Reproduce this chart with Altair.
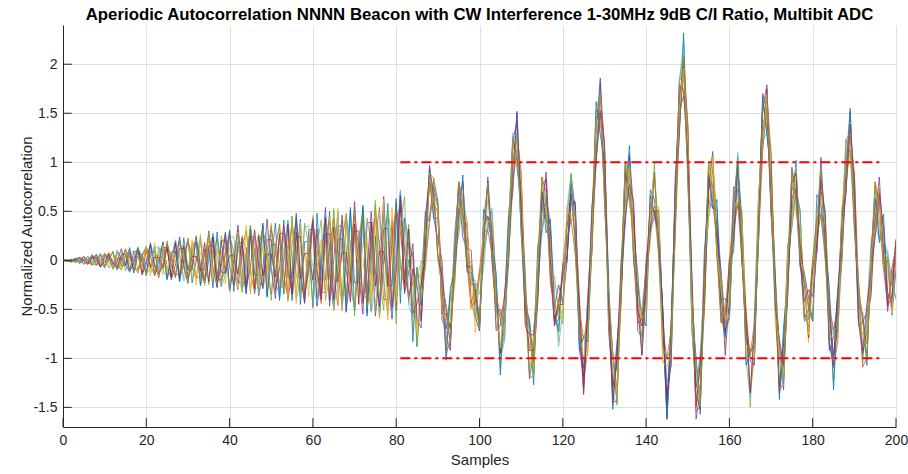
import altair as alt
import pandas as pd

samples = list(range(201))

L1 = [0.00, -0.01, 0.00, 0.02, -0.03, 0.00, 0.04, -0.05, 0.00, 0.07,
      -0.07, 0.00, 0.09, -0.10, 0.00, 0.11, -0.12, 0.00, 0.13, -0.14,
      0.00, 0.16, -0.16, 0.00, 0.18, -0.19, 0.00, 0.20, -0.21, 0.00,
      0.22, -0.23, 0.00, 0.24, -0.25, 0.00, 0.27, -0.27, 0.00, 0.29,
      -0.30, 0.00, 0.31, -0.32, 0.00, 0.33, -0.34, 0.00, 0.36, -0.36,
      0.00, 0.38, -0.38, 0.00, 0.40, -0.41, 0.00, 0.42, -0.43, 0.00,
      0.44, -0.45, 0.00, 0.47, -0.47, 0.00, 0.49, -0.50, 0.00, 0.51,
      -0.52, 0.00, 0.53, -0.54, 0.00, 0.56, -0.56, 0.00, 0.58, -0.58,
      0.00, 0.70, -0.31, 0.00, 0.08, -0.88, -0.30, 0.50, 0.39, 0.75,
      0.56, -0.61, -0.70, -0.34, -0.26, 0.50, 0.81, -0.06, -0.25, -0.24,
      -0.66, 0.20, 0.81, 0.04, -0.45, -0.59, -0.81, 0.30, 1.26, 0.94,
      0.60, -0.14, -1.21, -0.95, 0.16, 0.29, 0.60, 0.36, -0.66, -0.60,
      -0.09, 0.04, 0.65, 0.56, -0.86, -1.10, -0.44, 0.09, 1.30, 1.86,
      0.64, -0.40, -0.94, -1.46, -0.20, 0.96, 0.59, 0.30, -0.14, -0.96,
      -0.35, 0.66, 0.49, 0.30, -0.54, -1.56, -0.80, 0.76, 1.34, 2.00,
      1.36, -0.71, -1.30, -0.99, -0.51, 0.70, 1.11, 0.04, -0.40, -0.39,
      -0.56, 0.40, 1.06, 0.04, -0.75, -0.99, -1.01, 0.45, 1.61, 1.34,
      0.80, -0.14, -1.36, -1.00, 0.16, 0.34, 0.70, 0.51, -0.61, -0.60,
      -0.04, 0.09, 0.70, 0.51, -0.86, -1.00, -0.34, 0.04, 1.00, 1.46,
      0.34, -0.35, -0.59, -1.01, -0.05, 0.76, 0.24, 0.15, 0.06, -0.56,
      -0.10]

L2 = [0.00, 0.00, -0.01, 0.01, 0.03, -0.01, -0.04, 0.02, 0.06, -0.03,
      -0.07, 0.03, 0.08, -0.04, -0.10, 0.04, 0.11, -0.05, -0.13, 0.06,
      0.14, -0.06, -0.15, 0.07, 0.17, -0.07, -0.18, 0.08, 0.20, -0.08,
      -0.21, 0.09, 0.23, -0.10, -0.24, 0.10, 0.25, -0.11, -0.27, 0.11,
      0.28, -0.12, -0.30, 0.12, 0.31, -0.13, -0.32, 0.14, 0.34, -0.14,
      -0.35, 0.15, 0.37, -0.15, -0.38, 0.16, 0.39, -0.17, -0.41, 0.17,
      0.42, -0.18, -0.44, 0.18, 0.45, -0.19, -0.46, 0.19, 0.48, -0.20,
      -0.49, 0.21, 0.51, -0.21, -0.52, 0.22, 0.54, -0.22, -0.55, 0.23,
      0.56, -0.07, -0.28, 0.18, 0.05, -0.65, -0.61, 0.31, 0.88, 0.65,
      0.07, -0.25, -0.47, -0.70, -0.23, 0.60, 0.78, 0.10, -0.48, -0.40,
      -0.17, 0.10, 0.32, 0.40, -0.22, -0.95, -0.78, 0.40, 1.23, 1.10,
      0.37, -0.30, -0.72, -1.05, -0.33, 0.65, 0.83, 0.00, -0.63, -0.50,
      -0.12, 0.20, 0.42, 0.40, -0.37, -1.20, -0.93, 0.45, 1.53, 1.50,
      0.67, -0.30, -0.97, -1.30, -0.43, 0.80, 1.08, 0.20, -0.63, -0.60,
      -0.12, 0.30, 0.52, 0.40, -0.57, -1.40, -1.03, 0.60, 1.83, 1.90,
      0.87, -0.35, -1.07, -1.35, -0.48, 0.80, 1.08, 0.20, -0.63, -0.55,
      -0.07, 0.30, 0.57, 0.40, -0.52, -1.35, -0.98, 0.55, 1.58, 1.50,
      0.57, -0.30, -0.87, -1.10, -0.33, 0.70, 0.93, 0.15, -0.58, -0.50,
      -0.07, 0.25, 0.47, 0.35, -0.37, -1.10, -0.83, 0.40, 1.23, 1.10,
      0.37, -0.25, -0.62, -0.85, -0.28, 0.60, 0.73, 0.05, -0.43, -0.20,
      0.13]

L3 = [0.00, -0.01, 0.00, 0.01, -0.02, 0.04, -0.04, 0.02, 0.02, -0.06,
      0.08, -0.07, 0.03, 0.03, -0.09, 0.11, -0.10, 0.04, 0.04, -0.12,
      0.15, -0.13, 0.05, 0.05, -0.15, 0.19, -0.16, 0.06, 0.07, -0.18,
      0.23, -0.19, 0.08, 0.08, -0.21, 0.27, -0.22, 0.09, 0.09, -0.24,
      0.31, -0.25, 0.10, 0.10, -0.27, 0.34, -0.29, 0.11, 0.11, -0.30,
      0.38, -0.32, 0.12, 0.13, -0.33, 0.42, -0.35, 0.14, 0.14, -0.37,
      0.46, -0.38, 0.15, 0.15, -0.40, 0.50, -0.41, 0.16, 0.16, -0.43,
      0.54, -0.44, 0.17, 0.17, -0.46, 0.57, -0.47, 0.18, 0.18, -0.49,
      0.61, -0.31, 0.36, 0.15, -0.72, -0.08, -0.61, 0.31, 0.74, 0.51,
      0.60, -0.59, -0.61, -0.51, -0.24, 0.80, 0.31, 0.29, -0.16, -0.74,
      -0.10, -0.04, 0.64, 0.39, -0.69, -0.55, -0.79, 0.39, 1.09, 0.96,
      0.90, -0.64, -0.86, -0.86, -0.34, 0.85, 0.36, 0.19, -0.31, -0.84,
      -0.05, 0.06, 0.74, 0.39, -0.84, -0.80, -0.94, 0.44, 1.39, 1.36,
      1.20, -0.64, -1.11, -1.11, -0.44, 1.00, 0.61, 0.39, -0.31, -0.94,
      -0.05, 0.16, 0.84, 0.39, -1.04, -1.00, -1.04, 0.59, 1.69, 1.76,
      1.40, -0.69, -1.21, -1.16, -0.49, 1.00, 0.61, 0.39, -0.31, -0.89,
      0.00, 0.16, 0.89, 0.39, -0.99, -0.95, -0.99, 0.54, 1.44, 1.36,
      1.10, -0.64, -1.01, -0.91, -0.34, 0.90, 0.46, 0.34, -0.26, -0.84,
      0.00, 0.11, 0.79, 0.34, -0.84, -0.70, -0.84, 0.39, 1.09, 0.96,
      0.90, -0.59, -0.76, -0.66, -0.29, 0.80, 0.26, 0.24, -0.11, -0.54,
      0.20]

L4 = [0.00, 0.00, -0.02, 0.02, 0.02, -0.04, -0.01, 0.06, -0.01, -0.07,
      0.05, 0.06, -0.09, -0.02, 0.12, -0.03, -0.12, 0.09, 0.09, -0.15,
      -0.04, 0.18, -0.04, -0.18, 0.13, 0.13, -0.20, -0.05, 0.24, -0.05,
      -0.23, 0.16, 0.17, -0.25, -0.06, 0.30, -0.07, -0.28, 0.20, 0.21,
      -0.31, -0.08, 0.36, -0.08, -0.34, 0.24, 0.24, -0.36, -0.09, 0.42,
      -0.09, -0.39, 0.27, 0.28, -0.41, -0.10, 0.48, -0.11, -0.44, 0.31,
      0.32, -0.47, -0.12, 0.54, -0.12, -0.50, 0.35, 0.35, -0.52, -0.13,
      0.60, -0.13, -0.55, 0.38, 0.39, -0.57, -0.14, 0.65, -0.15, -0.60,
      0.42, 0.55, -0.34, -0.12, 0.17, -0.60, -0.69, 0.44, 0.87, 0.43,
      0.22, 0.00, -0.78, -0.92, 0.22, 0.72, 0.23, 0.12, 0.10, -0.58,
      -0.72, 0.42, 0.77, -0.02, -0.53, -0.50, -0.63, -0.02, 1.22, 1.42,
      0.28, -0.48, -0.60, -1.03, -0.42, 0.77, 0.82, -0.22, -0.48, -0.25,
      -0.43, -0.02, 0.87, 0.52, -0.92, -1.18, -0.35, 0.27, 0.98, 1.82,
      1.12, -0.72, -1.28, -0.85, -0.28, 0.38, 1.07, 0.52, -0.72, -0.78,
      0.00, 0.32, 0.43, 0.52, -0.58, -1.62, -0.88, 0.85, 1.52, 1.68,
      1.32, -0.23, -1.62, -1.33, 0.10, 0.62, 0.53, 0.52, -0.18, -0.97,
      -0.38, 0.75, 0.72, -0.02, -0.53, -1.03, -1.07, 0.37, 1.70, 1.52,
      0.48, -0.18, -0.88, -1.32, -0.18, 0.95, 0.62, -0.07, -0.13, -0.38,
      -0.62, 0.27, 1.05, 0.17, -0.92, -0.78, -0.38, -0.02, 0.92, 1.55,
      0.52, -0.67, -0.63, -0.53, -0.37, 0.42, 0.85, 0.07, -0.52, -0.08,
      0.12]

L5 = [0.00, 0.00, -0.01, 0.02, 0.01, -0.04, 0.01, 0.04, -0.05, -0.02,
      0.07, -0.02, -0.07, 0.08, 0.03, -0.11, 0.04, 0.10, -0.10, -0.04,
      0.14, -0.05, -0.13, 0.13, 0.05, -0.18, 0.06, 0.16, -0.16, -0.06,
      0.22, -0.07, -0.19, 0.19, 0.08, -0.25, 0.08, 0.22, -0.22, -0.09,
      0.29, -0.09, -0.24, 0.25, 0.10, -0.32, 0.10, 0.27, -0.28, -0.11,
      0.36, -0.11, -0.30, 0.31, 0.12, -0.40, 0.12, 0.33, -0.34, -0.13,
      0.43, -0.14, -0.36, 0.37, 0.14, -0.47, 0.15, 0.39, -0.40, -0.15,
      0.50, -0.16, -0.42, 0.43, 0.17, -0.54, 0.17, 0.45, -0.45, -0.18,
      0.58, -0.02, -0.21, 0.37, -0.22, -0.87, -0.20, 0.43, 0.45, 0.67,
      0.55, -0.43, -0.90, -0.40, 0.08, 0.25, 0.63, 0.40, -0.45, -0.58,
      -0.15, 0.12, 0.35, 0.50, -0.37, -1.10, -0.47, 0.50, 0.80, 1.12,
      0.85, -0.48, -1.15, -0.75, -0.02, 0.30, 0.68, 0.30, -0.60, -0.68,
      -0.10, 0.22, 0.45, 0.50, -0.52, -1.35, -0.62, 0.55, 1.10, 1.52,
      1.15, -0.48, -1.40, -1.00, -0.12, 0.45, 0.93, 0.50, -0.60, -0.78,
      -0.10, 0.32, 0.55, 0.50, -0.72, -1.55, -0.72, 0.70, 1.40, 1.92,
      1.35, -0.53, -1.50, -1.05, -0.17, 0.45, 0.93, 0.50, -0.60, -0.73,
      -0.05, 0.32, 0.60, 0.50, -0.67, -1.50, -0.67, 0.65, 1.15, 1.52,
      1.05, -0.48, -1.30, -0.80, -0.02, 0.35, 0.78, 0.45, -0.55, -0.68,
      -0.05, 0.27, 0.50, 0.45, -0.52, -1.25, -0.52, 0.50, 0.80, 1.12,
      0.85, -0.43, -1.05, -0.55, 0.03, 0.25, 0.58, 0.35, -0.40, -0.38,
      0.15]

L6 = [0.00, 0.00, -0.01, -0.01, 0.02, 0.03, -0.02, -0.05, 0.01, 0.07,
      0.01, -0.08, -0.05, 0.08, 0.08, -0.06, -0.12, 0.02, 0.14, 0.02,
      -0.14, -0.08, 0.13, 0.14, -0.09, -0.18, 0.03, 0.21, 0.04, -0.21,
      -0.11, 0.18, 0.19, -0.13, -0.24, 0.05, 0.28, 0.05, -0.27, -0.15,
      0.24, 0.24, -0.16, -0.31, 0.06, 0.34, 0.06, -0.34, -0.18, 0.29,
      0.29, -0.20, -0.37, 0.07, 0.41, 0.07, -0.40, -0.22, 0.34, 0.35,
      -0.23, -0.44, 0.08, 0.48, 0.08, -0.47, -0.25, 0.39, 0.40, -0.26,
      -0.50, 0.09, 0.55, 0.09, -0.53, -0.29, 0.45, 0.45, -0.30, -0.57,
      0.10, 0.72, 0.29, -0.46, -0.58, -0.18, -0.01, 0.03, 0.37, 0.80,
      0.60, -0.30, -0.98, -0.75, 0.23, 0.73, 0.40, -0.08, -0.20, -0.20,
      -0.35, -0.08, 0.40, 0.53, -0.22, -1.00, -0.83, 0.35, 1.30, 1.25,
      0.32, -0.55, -0.72, -0.72, -0.25, 0.27, 0.65, 0.40, -0.35, -0.88,
      -0.50, 0.53, 0.88, 0.15, -0.88, -1.05, -0.40, 0.40, 1.02, 1.45,
      1.13, -0.17, -1.35, -1.48, -0.15, 1.00, 0.90, 0.02, -0.55, -0.47,
      -0.12, 0.25, 0.47, 0.35, -0.50, -1.25, -1.08, 0.35, 1.83, 2.23,
      0.95, -0.73, -1.25, -0.95, -0.20, 0.42, 0.70, 0.53, -0.17, -0.80,
      -0.58, 0.45, 1.10, 0.35, -1.03, -1.40, -0.52, 0.68, 1.20, 1.32,
      0.85, -0.10, -1.05, -1.28, -0.25, 0.83, 0.93, 0.10, -0.63, -0.55,
      0.00, 0.40, 0.42, 0.10, -0.37, -0.77, -0.75, 0.02, 1.05, 1.50,
      0.65, -0.63, -1.00, -0.52, 0.18, 0.35, 0.22, 0.20, 0.10, -0.25,
      -0.38]

L7 = [0.00, -0.01, 0.01, -0.01, 0.00, 0.01, -0.02, 0.04, -0.05, 0.06,
      -0.06, 0.06, -0.04, 0.02, 0.02, -0.05, 0.08, -0.11, 0.12, -0.12,
      0.10, -0.07, 0.03, 0.03, -0.08, 0.13, -0.17, 0.18, -0.18, 0.15,
      -0.10, 0.04, 0.04, -0.11, 0.18, -0.22, 0.24, -0.24, 0.20, -0.13,
      0.05, 0.05, -0.14, 0.23, -0.28, 0.31, -0.29, 0.25, -0.16, 0.06,
      0.06, -0.17, 0.27, -0.34, 0.37, -0.35, 0.29, -0.19, 0.07, 0.07,
      -0.20, 0.32, -0.40, 0.43, -0.41, 0.34, -0.22, 0.08, 0.08, -0.23,
      0.37, -0.45, 0.49, -0.47, 0.39, -0.26, 0.09, 0.09, -0.27, 0.41,
      -0.51, 0.65, -0.23, 0.32, -0.54, -0.44, -0.25, 0.08, 0.80, 0.56,
      0.50, -0.54, -0.55, -0.70, 0.03, 0.53, 0.45, 0.35, -0.44, -0.30,
      -0.59, 0.35, 0.45, 0.33, -0.42, -0.95, -0.40, 0.11, 1.20, 1.01,
      0.75, -0.50, -0.92, -0.92, -0.20, 0.70, 0.41, 0.30, -0.59, -0.45,
      -0.45, 0.33, 0.68, 0.20, -0.45, -1.29, -0.50, 0.16, 1.45, 1.50,
      0.93, -0.37, -1.30, -1.05, -0.39, 0.90, 0.66, 0.45, -0.50, -0.67,
      -0.32, 0.30, 0.90, 0.11, -0.60, -1.49, -0.65, 0.40, 1.63, 2.03,
      1.00, -0.30, -1.49, -1.05, -0.44, 0.85, 0.75, 0.33, -0.37, -0.75,
      -0.15, 0.21, 1.00, 0.11, -0.60, -1.35, -0.72, 0.48, 1.25, 1.75,
      0.61, -0.20, -1.29, -0.85, -0.20, 0.63, 0.73, 0.15, -0.20, -0.79,
      -0.10, 0.16, 0.85, 0.15, -0.57, -0.97, -0.70, 0.45, 0.81, 1.40,
      0.41, -0.20, -0.95, -0.72, -0.02, 0.40, 0.65, -0.04, 0.00, -0.49,
      0.05]

L8 = [0.00, -0.01, 0.01, 0.01, -0.03, 0.04, -0.02, -0.02, 0.06, -0.07,
      0.03, 0.04, -0.09, 0.10, -0.05, -0.05, 0.13, -0.13, 0.06, 0.06,
      -0.16, 0.16, -0.07, -0.07, 0.19, -0.20, 0.08, 0.09, -0.22, 0.23,
      -0.10, -0.10, 0.25, -0.26, 0.11, 0.11, -0.28, 0.29, -0.12, -0.13,
      0.31, -0.32, 0.14, 0.14, -0.34, 0.35, -0.15, -0.15, 0.38, -0.38,
      0.16, 0.16, -0.41, 0.41, -0.17, -0.18, 0.44, -0.45, 0.19, 0.19,
      -0.47, 0.48, -0.20, -0.20, 0.50, -0.51, 0.21, 0.22, -0.53, 0.54,
      -0.23, -0.23, 0.56, -0.57, 0.24, 0.24, -0.59, 0.60, -0.25, -0.26,
      0.63, -0.44, 0.43, 0.21, -0.83, -0.07, -0.46, 0.05, 0.97, 0.43,
      0.43, -0.22, -1.02, -0.28, -0.13, 0.37, 0.87, -0.12, -0.12, -0.37,
      -0.72, 0.52, 0.42, 0.17, -0.13, -1.17, -0.42, 0.43, 0.68, 1.52,
      0.47, -0.53, -0.63, -1.27, 0.03, 0.68, 0.28, 0.42, -0.53, -0.73,
      -0.03, -0.02, 0.78, 0.43, -0.92, -0.78, -0.83, 0.22, 1.62, 1.28,
      1.03, -0.27, -1.52, -0.88, -0.33, 0.57, 1.17, -0.02, -0.27, -0.57,
      -0.67, 0.72, 0.62, 0.17, -0.48, -1.62, -0.67, 0.63, 1.28, 2.32,
      0.97, -0.58, -0.98, -1.57, -0.12, 0.83, 0.53, 0.62, -0.53, -0.78,
      0.02, 0.08, 0.93, 0.43, -1.07, -0.93, -0.88, 0.32, 1.67, 1.28,
      0.93, -0.27, -1.42, -0.68, -0.23, 0.47, 1.02, -0.07, -0.22, -0.47,
      -0.62, 0.67, 0.57, 0.12, -0.28, -1.32, -0.47, 0.43, 0.68, 1.52,
      0.47, -0.48, -0.53, -1.07, 0.08, 0.63, 0.18, 0.47, -0.33, -0.43,
      0.22]

L9 = [0.00, 0.00, -0.01, -0.02, 0.01, 0.03, 0.01, -0.04, -0.04, 0.02,
      0.06, 0.02, -0.06, -0.07, 0.03, 0.10, 0.03, -0.09, -0.09, 0.04,
      0.13, 0.04, -0.11, -0.12, 0.05, 0.16, 0.05, -0.14, -0.15, 0.06,
      0.19, 0.06, -0.17, -0.17, 0.07, 0.22, 0.07, -0.19, -0.20, 0.08,
      0.26, 0.08, -0.22, -0.22, 0.09, 0.29, 0.09, -0.24, -0.25, 0.10,
      0.32, 0.10, -0.27, -0.27, 0.11, 0.35, 0.11, -0.30, -0.30, 0.12,
      0.38, 0.12, -0.32, -0.33, 0.13, 0.42, 0.13, -0.35, -0.35, 0.14,
      0.45, 0.14, -0.37, -0.38, 0.15, 0.48, 0.15, -0.40, -0.40, 0.16,
      0.51, 0.30, -0.17, -0.35, -0.23, -0.12, -0.19, -0.07, 0.41, 0.84,
      0.60, -0.26, -0.94, -0.84, 0.09, 0.80, 0.64, -0.04, -0.49, -0.41,
      -0.10, 0.29, 0.31, 0.06, -0.36, -0.55, -0.46, 0.06, 0.76, 1.29,
      0.90, -0.31, -1.19, -1.19, -0.01, 0.85, 0.69, -0.14, -0.64, -0.51,
      -0.05, 0.39, 0.41, 0.06, -0.51, -0.80, -0.61, 0.11, 1.06, 1.69,
      1.20, -0.31, -1.44, -1.44, -0.11, 1.00, 0.94, 0.06, -0.64, -0.61,
      -0.05, 0.49, 0.51, 0.06, -0.71, -1.00, -0.71, 0.26, 1.36, 2.09,
      1.40, -0.36, -1.54, -1.49, -0.16, 1.00, 0.94, 0.06, -0.64, -0.56,
      0.00, 0.49, 0.56, 0.06, -0.66, -0.95, -0.66, 0.21, 1.11, 1.69,
      1.10, -0.31, -1.34, -1.24, -0.01, 0.90, 0.79, 0.01, -0.59, -0.51,
      0.00, 0.44, 0.46, 0.01, -0.51, -0.70, -0.51, 0.06, 0.76, 1.29,
      0.90, -0.26, -1.09, -0.99, 0.04, 0.80, 0.59, -0.09, -0.44, -0.21,
      0.20]

L10 = [0.00, -0.01, 0.01, -0.02, 0.01, -0.01, -0.01, 0.02, -0.04, 0.06,
       -0.08, 0.09, -0.09, 0.09, -0.07, 0.05, -0.02, -0.02, 0.06, -0.10,
       0.14, -0.16, 0.18, -0.18, 0.16, -0.13, 0.09, -0.03, -0.03, 0.10,
       -0.16, 0.21, -0.25, 0.27, -0.26, 0.24, -0.19, 0.12, -0.04, -0.04,
       0.13, -0.22, 0.29, -0.33, 0.36, -0.35, 0.31, -0.25, 0.16, -0.06,
       -0.06, 0.17, -0.27, 0.36, -0.42, 0.45, -0.44, 0.39, -0.31, 0.20,
       -0.07, -0.07, 0.21, -0.33, 0.44, -0.51, 0.53, -0.52, 0.46, -0.36,
       0.23, -0.08, -0.08, 0.24, -0.39, 0.51, -0.59, 0.62, -0.61, 0.54,
       -0.42, 0.40, 0.12, -0.07, -0.17, -0.76, -0.01, -0.09, 0.90, 0.51,
       0.51, -0.51, -0.60, -0.64, -0.04, 0.60, 0.39, 0.41, -0.49, -0.25,
       -0.64, 0.41, 0.39, 0.40, -0.49, -0.89, -0.45, 0.14, 1.21, 0.96,
       0.85, -0.64, -0.74, -1.11, 0.00, 0.51, 0.56, 0.20, -0.56, -0.39,
       -0.59, 0.55, 0.41, 0.51, -0.76, -1.00, -0.74, 0.31, 1.40, 1.44,
       1.11, -0.64, -0.95, -1.44, 0.01, 0.54, 0.95, 0.26, -0.44, -0.60,
       -0.51, 0.61, 0.51, 0.55, -1.04, -1.09, -0.96, 0.60, 1.56, 1.96,
       1.20, -0.61, -1.09, -1.49, 0.00, 0.46, 1.06, 0.14, -0.30, -0.69,
       -0.34, 0.50, 0.64, 0.51, -0.99, -1.00, -0.99, 0.66, 1.19, 1.70,
       0.76, -0.44, -1.00, -1.16, 0.11, 0.36, 0.95, 0.01, -0.14, -0.76,
       -0.20, 0.31, 0.66, 0.35, -0.76, -0.79, -0.84, 0.55, 0.76, 1.41,
       0.44, -0.25, -0.89, -0.79, 0.05, 0.34, 0.71, -0.09, 0.05, -0.54,
       0.11]

L11 = [0.00, 0.00, -0.01, 0.00, 0.03, -0.01, -0.04, 0.03, 0.03, -0.06,
       -0.02, 0.07, -0.02, -0.08, 0.06, 0.06, -0.10, -0.03, 0.12, -0.03,
       -0.12, 0.09, 0.09, -0.14, -0.04, 0.17, -0.04, -0.17, 0.12, 0.12,
       -0.18, -0.05, 0.22, -0.05, -0.21, 0.15, 0.15, -0.23, -0.06, 0.27,
       -0.06, -0.25, 0.18, 0.18, -0.27, -0.07, 0.31, -0.07, -0.29, 0.21,
       0.21, -0.31, -0.08, 0.36, -0.08, -0.34, 0.24, 0.24, -0.35, -0.09,
       0.41, -0.09, -0.38, 0.27, 0.27, -0.40, -0.10, 0.46, -0.10, -0.42,
       0.30, 0.30, -0.44, -0.11, 0.50, -0.11, -0.47, 0.32, 0.33, -0.48,
       -0.12, 0.66, 0.09, -0.41, -0.09, -0.26, -0.62, 0.13, 0.95, 0.68,
       0.03, -0.16, -0.51, -0.87, -0.07, 0.80, 0.48, -0.07, -0.06, -0.31,
       -0.67, 0.13, 0.85, 0.23, -0.72, -0.66, -0.36, 0.03, 0.93, 1.50,
       0.53, -0.67, -0.76, -0.76, -0.37, 0.48, 0.90, 0.03, -0.67, -0.41,
       -0.16, 0.03, 0.58, 0.60, -0.67, -1.37, -0.51, 0.54, 1.03, 1.53,
       1.20, -0.47, -1.47, -1.01, -0.01, 0.43, 0.78, 0.60, -0.47, -0.97,
       -0.16, 0.59, 0.48, 0.23, -0.50, -1.37, -1.07, 0.69, 1.79, 1.73,
       1.03, -0.15, -1.37, -1.52, -0.06, 0.89, 0.58, 0.23, -0.10, -0.72,
       -0.57, 0.59, 0.99, 0.03, -0.82, -0.95, -0.82, 0.18, 1.54, 1.79,
       0.53, -0.47, -0.80, -1.07, -0.37, 0.79, 0.89, -0.02, -0.42, -0.30,
       -0.37, 0.08, 0.89, 0.44, -0.87, -1.07, -0.30, 0.23, 0.73, 1.39,
       0.79, -0.62, -0.92, -0.45, -0.12, 0.23, 0.69, 0.34, -0.47, -0.37,
       0.20]

L12 = [0.00, 0.00, 0.01, -0.02, -0.01, 0.04, -0.02, -0.05, 0.05, 0.02,
       -0.08, 0.03, 0.08, -0.09, -0.04, 0.12, -0.04, -0.11, 0.12, 0.05,
       -0.16, 0.05, 0.14, -0.15, -0.06, 0.20, -0.07, -0.18, 0.18, 0.07,
       -0.24, 0.08, 0.21, -0.22, -0.09, 0.28, -0.09, -0.24, 0.25, 0.10,
       -0.32, 0.10, 0.28, -0.28, -0.11, 0.36, -0.12, -0.31, 0.31, 0.12,
       -0.41, 0.13, 0.34, -0.35, -0.14, 0.45, -0.14, -0.37, 0.38, 0.15,
       -0.49, 0.15, 0.41, -0.41, -0.16, 0.53, -0.17, -0.44, 0.45, 0.17,
       -0.57, 0.18, 0.47, -0.48, -0.19, 0.61, -0.19, -0.51, 0.51, 0.20,
       -0.65, 0.34, 0.65, -0.42, -0.50, -0.07, -0.42, -0.08, 0.89, 0.84,
       0.00, -0.26, -0.46, -0.84, -0.09, 0.80, 0.46, -0.04, -0.01, -0.41,
       -0.70, 0.29, 0.79, 0.06, -0.54, -0.55, -0.64, 0.06, 1.24, 1.29,
       0.30, -0.31, -0.71, -1.19, -0.19, 0.85, 0.51, -0.14, -0.16, -0.51,
       -0.65, 0.39, 0.89, 0.06, -0.69, -0.80, -0.79, 0.11, 1.54, 1.69,
       0.60, -0.31, -0.96, -1.44, -0.29, 1.00, 0.76, 0.06, -0.16, -0.61,
       -0.65, 0.49, 0.99, 0.06, -0.89, -1.00, -0.89, 0.26, 1.84, 2.09,
       0.80, -0.36, -1.06, -1.49, -0.34, 1.00, 0.76, 0.06, -0.16, -0.56,
       -0.60, 0.49, 1.04, 0.06, -0.84, -0.95, -0.84, 0.21, 1.59, 1.69,
       0.50, -0.31, -0.86, -1.24, -0.19, 0.90, 0.61, 0.01, -0.11, -0.51,
       -0.60, 0.44, 0.94, 0.01, -0.69, -0.70, -0.69, 0.06, 1.24, 1.29,
       0.30, -0.26, -0.61, -0.99, -0.14, 0.80, 0.41, -0.09, 0.04, -0.21,
       -0.40]

run_names = ["r01", "r02", "r03", "r04", "r05", "r06",
             "r07", "r08", "r09", "r10", "r11", "r12"]
run_values = [L1, L2, L3, L4, L5, L6, L7, L8, L9, L10, L11, L12]
run_colors = ["#0072BD", "#D95319", "#EDB120", "#7E2F8E", "#77AC30", "#4DBEEE",
              "#A2142F", "#0072BD", "#D95319", "#EDB120", "#7E2F8E", "#77AC30"]

threshold_levels = [1, -1]
threshold_span = [81, 196]

x_ticks = [0, 20, 40, 60, 80, 100, 120, 140, 160, 180, 200]
y_ticks = [-1.5, -1, -0.5, 0, 0.5, 1, 1.5, 2]
x_domain = [0, 200]
y_domain = [-1.7, 2.4]

title_text = ("Aperiodic Autocorrelation NNNN Beacon with CW Interference "
              "1-30MHz 9dB C/I Ratio, Multibit ADC")

rows = []
for name, vals in zip(run_names, run_values):
    assert len(vals) == 201, (name, len(vals))
    for s, v in zip(samples, vals):
        rows.append({"sample": s, "value": v, "run": name})
df = pd.DataFrame(rows)

thr_rows = []
for lv in threshold_levels:
    for xv in threshold_span:
        thr_rows.append({"sample": xv, "value": lv, "lvl": str(lv)})
thr_df = pd.DataFrame(thr_rows)

ytick_df = pd.DataFrame({"y": y_ticks, "x0": [0] * len(y_ticks), "x1": [2.1] * len(y_ticks)})
xtick_df = pd.DataFrame({"x": x_ticks, "y0": [-1.7] * len(x_ticks), "y1": [-1.61] * len(x_ticks)})

FONT = "Liberation Sans"
xs = alt.Scale(domain=x_domain, nice=False, zero=False)
ys = alt.Scale(domain=y_domain, nice=False, zero=False)

common_axis = dict(grid=True, tickSize=0, labelFont=FONT, labelFontSize=14,
                   labelColor="#262626", titleFont=FONT, titleFontSize=15,
                   titleFontWeight="normal", titleColor="#262626",
                   domainColor="#262626", domainWidth=1,
                   gridColor="#E0E0E0", gridWidth=1)

x_axis = alt.Axis(values=x_ticks, title="Samples", labelPadding=6, titlePadding=5,
                  labelFlush=False, **common_axis)
y_axis = alt.Axis(values=y_ticks, title="Normalized Autocorrelation",
                  labelPadding=6, titlePadding=-2,
                  labelExpr="'' + datum.value", **common_axis)

lines = alt.Chart(df).mark_line(strokeWidth=0.75, clip=True).encode(
    x=alt.X("sample:Q", scale=xs, axis=x_axis),
    y=alt.Y("value:Q", scale=ys, axis=y_axis),
    color=alt.Color("run:N", scale=alt.Scale(domain=run_names, range=run_colors), legend=None),
    order=alt.Order("sample:Q"),
)

thr = alt.Chart(thr_df).mark_line(color="#FF0000", strokeWidth=2,
                                  strokeDash=[10, 4, 3, 4]).encode(
    x=alt.X("sample:Q", scale=xs),
    y=alt.Y("value:Q", scale=ys),
    detail="lvl:N",
)

yt = alt.Chart(ytick_df).mark_rule(color="#262626", strokeWidth=1).encode(
    x=alt.X("x0:Q", scale=xs), x2="x1:Q", y=alt.Y("y:Q", scale=ys))
xt = alt.Chart(xtick_df).mark_rule(color="#262626", strokeWidth=1).encode(
    x=alt.X("x:Q", scale=xs), y=alt.Y("y0:Q", scale=ys), y2="y1:Q")

chart = alt.layer(lines, thr, yt, xt).properties(
    width=833, height=402,
    autosize=alt.AutoSizeParams(type="none"),
    padding={"left": 63, "top": 25, "right": 12, "bottom": 47},
    background="white",
    title=alt.TitleParams(text=title_text, font=FONT, fontSize=16.8, fontWeight="bold",
                          color="#000000", anchor="middle", offset=1),
).configure_view(strokeWidth=0)

chart.save("out.html", embed_options={"renderer": "svg", "actions": False})
